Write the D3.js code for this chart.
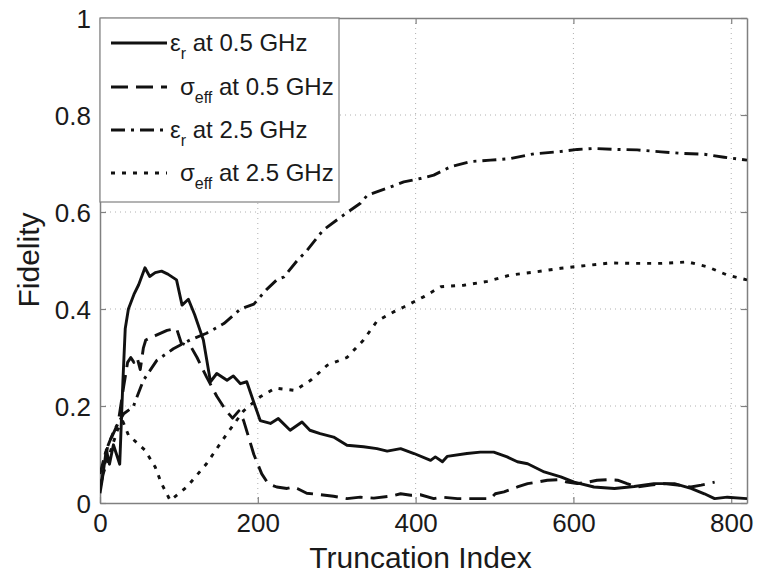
<!DOCTYPE html>
<html>
<head>
<meta charset="utf-8">
<script src="https://cdn.jsdelivr.net/npm/d3@7"></script>
<style>
  body { margin: 0; background: #fff; }
  text { font-family: "Liberation Sans", Arial, sans-serif; fill: #1a1a1a; }
</style>
</head>
<body>
<div id="chart"></div>
<script>
// Values: [truncation index, fidelity]
const epsR05 = [[0,0.02],[3,0.05],[8,0.11],[12,0.08],[17,0.12],[21,0.10],[25,0.08],[29,0.25],[32,0.36],[36,0.40],[43,0.43],[49,0.45],[57,0.485],[63,0.467],[70,0.475],[78,0.478],[86,0.472],[97,0.46],[104,0.408],[112,0.42],[120,0.388],[131,0.336],[140,0.25],[148,0.267],[161,0.253],[169,0.262],[178,0.246],[186,0.25],[194,0.212],[203,0.17],[216,0.164],[226,0.174],[241,0.15],[256,0.167],[266,0.15],[279,0.143],[296,0.136],[313,0.119],[334,0.116],[351,0.112],[364,0.107],[381,0.112],[398,0.102],[419,0.088],[425,0.095],[434,0.085],[440,0.096],[465,0.102],[482,0.105],[499,0.105],[516,0.095],[529,0.085],[542,0.081],[563,0.064],[584,0.054],[601,0.043],[626,0.033],[652,0.03],[677,0.034],[702,0.04],[728,0.04],[749,0.03],[766,0.019],[779,0.009],[795,0.012],[820,0.009]];
const sigma05 = [[0,0.03],[5,0.07],[10,0.12],[16,0.14],[23,0.165],[30,0.24],[35,0.29],[39,0.30],[43,0.29],[47,0.30],[51,0.275],[55,0.32],[58,0.336],[70,0.345],[85,0.356],[97,0.36],[103,0.33],[116,0.32],[123,0.30],[135,0.26],[148,0.22],[160,0.19],[168,0.175],[176,0.19],[182,0.17],[195,0.10],[205,0.06],[213,0.04],[224,0.033],[237,0.03],[245,0.033],[250,0.03],[262,0.02],[275,0.018],[296,0.014],[313,0.009],[330,0.012],[347,0.01],[368,0.014],[381,0.019],[394,0.016],[406,0.017],[423,0.009],[434,0.012],[453,0.009],[482,0.009],[495,0.009],[501,0.019],[512,0.023],[529,0.033],[542,0.04],[554,0.043],[567,0.047],[580,0.048],[592,0.043],[605,0.04],[618,0.043],[630,0.047],[643,0.048],[656,0.047],[668,0.04],[681,0.033],[698,0.037],[715,0.04],[732,0.037],[749,0.033],[762,0.037],[779,0.043]];
const epsR25 = [[0,0.06],[8,0.11],[18,0.15],[30,0.184],[42,0.198],[55,0.253],[72,0.294],[93,0.318],[114,0.336],[135,0.35],[157,0.37],[178,0.40],[195,0.41],[211,0.44],[224,0.46],[233,0.466],[250,0.50],[262,0.52],[283,0.563],[309,0.594],[330,0.618],[339,0.635],[364,0.649],[385,0.662],[406,0.669],[423,0.676],[444,0.693],[470,0.704],[495,0.707],[520,0.71],[550,0.72],[580,0.724],[605,0.729],[626,0.731],[656,0.729],[681,0.728],[711,0.724],[736,0.721],[766,0.719],[791,0.713],[820,0.707]];
const sigma25 = [[0,0.04],[12,0.1],[22,0.15],[29,0.168],[36,0.14],[57,0.109],[70,0.074],[78,0.04],[89,0.005],[110,0.033],[135,0.081],[161,0.143],[182,0.19],[203,0.219],[222,0.237],[247,0.232],[267,0.253],[288,0.284],[313,0.30],[334,0.336],[351,0.375],[372,0.394],[385,0.404],[410,0.425],[432,0.446],[461,0.449],[491,0.457],[520,0.47],[554,0.477],[584,0.484],[618,0.49],[647,0.495],[677,0.494],[711,0.494],[745,0.497],[770,0.487],[795,0.47],[820,0.46]];

const xTicks = [0, 200, 400, 600, 800];
const yTicks = [0, 0.2, 0.4, 0.6, 0.8, 1];
const legendNames = [["ε", "r", " at 0.5 GHz"], ["σ", "eff", " at 0.5 GHz"], ["ε", "r", " at 2.5 GHz"], ["σ", "eff", " at 2.5 GHz"]];

const W = 758, H = 576;
const margin = { top: 18, right: 11, bottom: 73, left: 100 };
const width = W - margin.left - margin.right,
      height = H - margin.top - margin.bottom;

const svg = d3.select("#chart").append("svg")
    .attr("width", W).attr("height", H);
const g = svg.append("g")
    .attr("transform", `translate(${margin.left},${margin.top})`);

const x = d3.scaleLinear().domain([0, 820]).range([0, width]);
const y = d3.scaleLinear().domain([0, 1]).range([height, 0]);

// dotted grid
g.selectAll(".gx").data(xTicks.slice(1)).enter().append("line")
    .attr("x1", d => x(d)).attr("x2", d => x(d))
    .attr("y1", 0).attr("y2", height)
    .attr("stroke", "#b0b0b0").attr("stroke-width", 1).attr("stroke-dasharray", "1,4");
g.selectAll(".gy").data(yTicks.slice(1, -1)).enter().append("line")
    .attr("x1", 0).attr("x2", width)
    .attr("y1", d => y(d)).attr("y2", d => y(d))
    .attr("stroke", "#b0b0b0").attr("stroke-width", 1).attr("stroke-dasharray", "1,4");

// axes with inward ticks
const axisColor = "#808080";
const xAxis = g.append("g").attr("transform", `translate(0,${height})`)
    .call(d3.axisBottom(x).tickValues(xTicks).tickSizeInner(-6).tickSizeOuter(0).tickPadding(10));
const yAxis = g.append("g")
    .call(d3.axisLeft(y).tickValues(yTicks).tickFormat(d3.format("~g")).tickSizeInner(-6).tickSizeOuter(0).tickPadding(9));
const xTop = g.append("g")
    .call(d3.axisTop(x).tickValues(xTicks).tickSizeInner(-6).tickSizeOuter(0).tickFormat(""));
const yRight = g.append("g").attr("transform", `translate(${width},0)`)
    .call(d3.axisRight(y).tickValues(yTicks).tickSizeInner(-6).tickSizeOuter(0).tickFormat(""));
[xAxis, yAxis, xTop, yRight].forEach(a => {
    a.select(".domain").attr("stroke", axisColor).attr("stroke-width", 1.5);
    a.selectAll(".tick line").attr("stroke", axisColor).attr("stroke-width", 1.2);
    a.selectAll(".tick text").attr("font-size", 26).attr("fill", "#1a1a1a")
        .attr("font-family", "Liberation Sans, Arial, sans-serif");
});
xAxis.selectAll(".tick text").attr("dy", "0.72em");
yAxis.selectAll(".tick text").attr("dy", "0.36em");

// series
const styles = [
    { data: epsR05, dash: null },
    { data: sigma05, dash: "17,8" },
    { data: epsR25, dash: "14,6,3,6" },
    { data: sigma25, dash: "4,7" }
];
const line = d3.line().x(d => x(d[0])).y(d => y(d[1]));
svg.append("clipPath").attr("id", "clip")
    .append("rect").attr("width", width).attr("height", height + 2).attr("y", -1);
g.selectAll(".series").data(styles).enter().append("path")
    .attr("class", "series")
    .attr("clip-path", "url(#clip)")
    .attr("fill", "none")
    .attr("stroke", "#111")
    .attr("stroke-width", 2.9)
    .attr("stroke-linejoin", "round")
    .attr("stroke-dasharray", d => d.dash)
    .attr("d", d => line(d.data));

// legend
const lg = g.append("g");
lg.append("rect").attr("x", 0).attr("y", 0).attr("width", 239).attr("height", 184)
    .attr("fill", "#fff").attr("stroke", axisColor).attr("stroke-width", 1.2);
const rowY = [25, 69, 112, 155];
styles.forEach((s, i) => {
    lg.append("line")
        .attr("x1", 11).attr("x2", 67).attr("y1", rowY[i]).attr("y2", rowY[i])
        .attr("stroke", "#111").attr("stroke-width", 2.9)
        .attr("stroke-dasharray", s.dash);
    const t = lg.append("text").attr("x", i % 2 === 0 ? 70 : 80).attr("y", rowY[i] + 8)
        .attr("font-size", 24);
    t.append("tspan").text(legendNames[i][0]);
    t.append("tspan").attr("font-size", 16).attr("dy", 8).text(legendNames[i][1]);
    t.append("tspan").attr("dy", -8).text(legendNames[i][2]);
});

// axis labels
svg.append("text")
    .attr("x", margin.left + width / 2 - 3).attr("y", 568)
    .attr("text-anchor", "middle").attr("font-size", 30)
    .text("Truncation Index");
svg.append("text")
    .attr("transform", `translate(39,260) rotate(-90)`)
    .attr("text-anchor", "middle").attr("font-size", 30)
    .text("Fidelity");
</script>
</body>
</html>
